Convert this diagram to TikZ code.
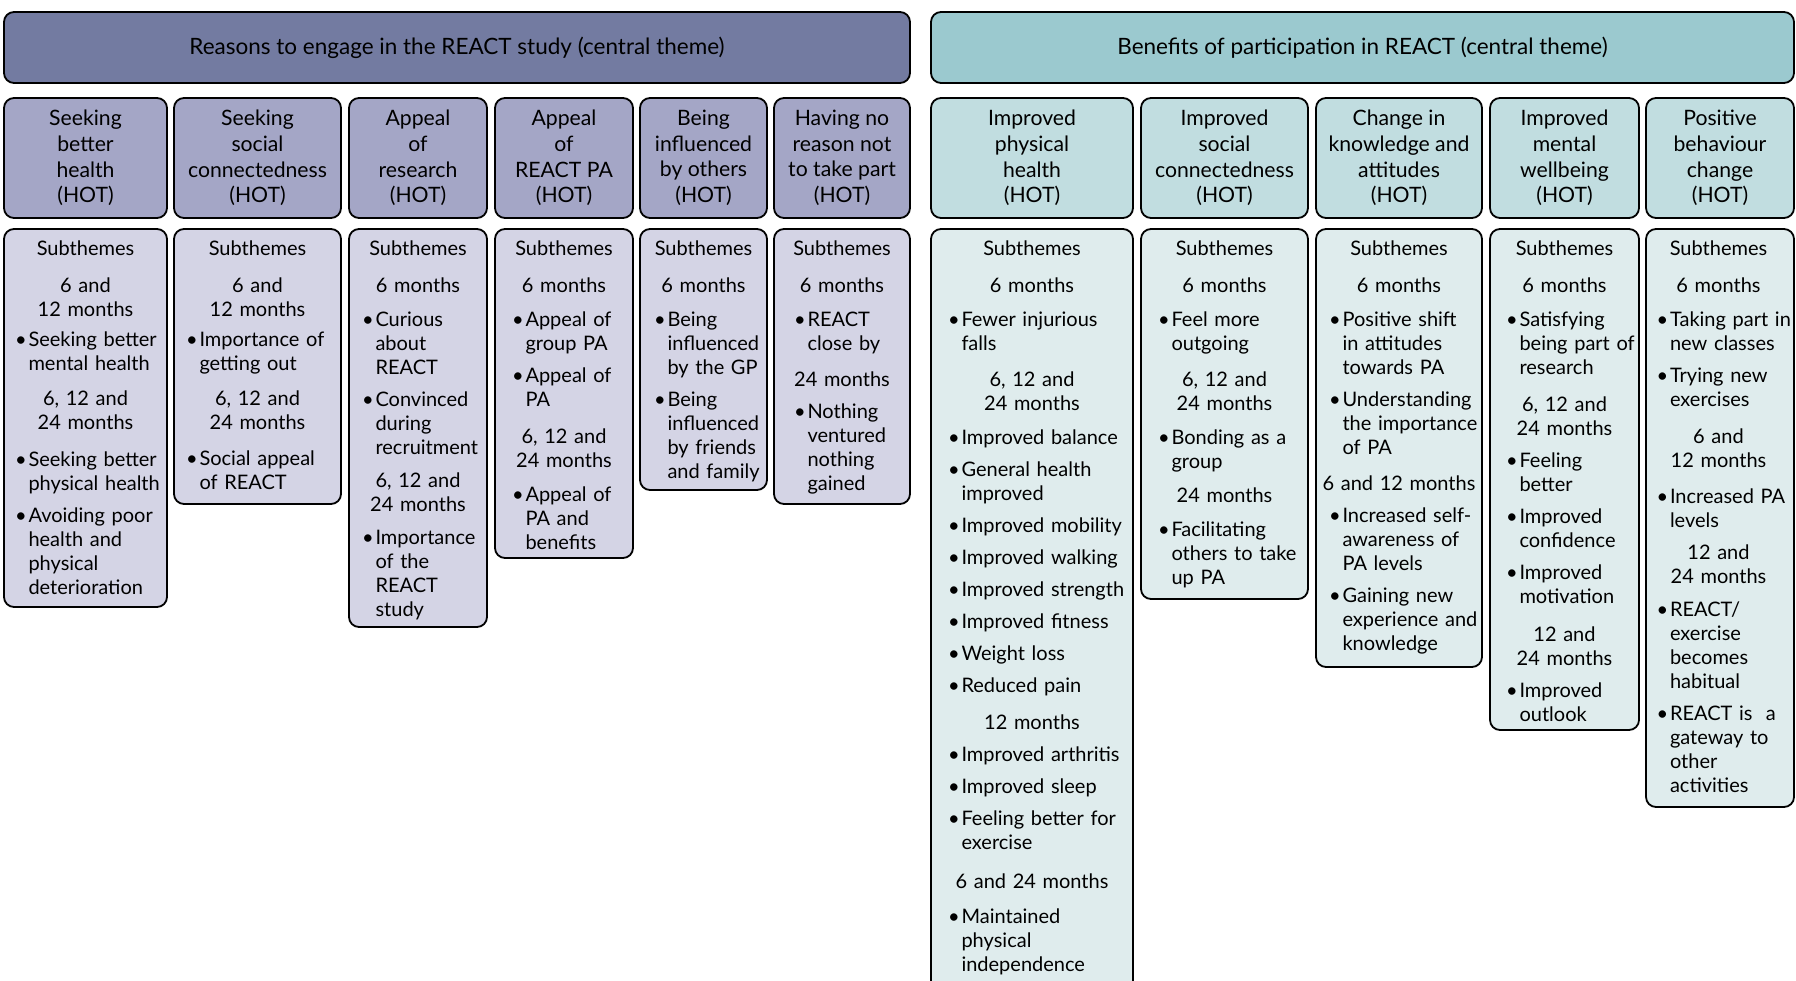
\documentclass[tikz,border=0pt]{standalone}
\usepackage{fontspec}
\setmainfont{Lato}
\definecolor{reasonHead}{HTML}{737BA1}
\definecolor{reasonHot}{HTML}{A4A6C6}
\definecolor{reasonSub}{HTML}{D4D4E5}
\definecolor{benefitHead}{HTML}{9BC9CF}
\definecolor{benefitHot}{HTML}{C1DDE0}
\definecolor{benefitSub}{HTML}{DFECED}
% centred line(s), time-point heading and bullet entry inside a subtheme box
\newcommand{\ctr}[1]{{\centering\leftskip=-30pt plus 1fil\rightskip=-30pt plus 1fil
  #1\par}}
\newcommand{\subhd}[2][13pt]{\par\vspace{#1}\ctr{#2}\vspace{2pt}}
\newcommand{\bul}[2][8pt]{\par\vspace{#1}{\let\\\newline\noindent\hangindent=14pt\hangafter=1
  \rightskip=-40pt plus 1fil\hyphenpenalty=10000
  \makebox[14pt][l]{\hspace{0.5pt}\textbullet}#2\par}}

\begin{document}
\begin{tikzpicture}[x=1pt, y=-1pt,
    theme/.style={rectangle, rounded corners=10pt, draw=black, line width=1.8pt,
                  minimum height=71pt, inner sep=0pt,
                  font=\fontsize{22.5}{26}\selectfont},
    hot/.style={rectangle, rounded corners=10pt, draw=black, line width=1.8pt,
                minimum height=120pt, inner sep=0pt, align=center,
                font=\fontsize{21.2}{25.6}\selectfont},
    subframe/.style={rounded corners=10pt, draw=black, line width=1.8pt},
    subtext/.style={anchor=north, inner sep=0pt, align=left,
                    font=\fontsize{20}{24}\selectfont},
  ]
  \useasboundingbox (0,0) rectangle (1796,980);
  \clip (0,0) rectangle (1796,980);

  % central themes
  \node[theme, fill=reasonHead, minimum width=906pt] (reasons) at (457,47.5)
    {Reasons to engage in the REACT study (central theme)};
  \node[theme, fill=benefitHead, minimum width=863pt] (benefits) at (1362.5,47.5)
    {Benefits of participation in REACT (central theme)};

  % higher-order themes: reasons
  \node[hot, fill=reasonHot, minimum width=163pt] (hotHealth) at (85.5,158)
    {Seeking\\better\\health\\(HOT)};
  \node[hot, fill=reasonHot, minimum width=167pt] (hotSocial) at (257.5,158)
    {Seeking\\social\\connectedness\\(HOT)};
  \node[hot, fill=reasonHot, minimum width=138pt] (hotResearch) at (418,158)
    {Appeal\\of\\research\\(HOT)};
  \node[hot, fill=reasonHot, minimum width=138pt] (hotPA) at (564,158)
    {Appeal\\of\\REACT PA\\(HOT)};
  \node[hot, fill=reasonHot, minimum width=127pt] (hotOthers) at (703.5,158)
    {Being\\influenced\\by others\\(HOT)};
  \node[hot, fill=reasonHot, minimum width=136pt] (hotNoReason) at (842,158)
    {Having no\\reason not\\to take part\\(HOT)};

  % higher-order themes: benefits
  \node[hot, fill=benefitHot, minimum width=202pt] (hotPhysical) at (1032,158)
    {Improved\\physical\\health\\(HOT)};
  \node[hot, fill=benefitHot, minimum width=167pt] (hotConnect) at (1224.5,158)
    {Improved\\social\\connectedness\\(HOT)};
  \node[hot, fill=benefitHot, minimum width=166pt] (hotKnow) at (1399,158)
    {Change in\\knowledge and\\attitudes\\(HOT)};
  \node[hot, fill=benefitHot, minimum width=149pt] (hotMental) at (1564.5,158)
    {Improved\\mental\\wellbeing\\(HOT)};
  \node[hot, fill=benefitHot, minimum width=148pt] (hotBehaviour) at (1720,158)
    {Positive\\behaviour\\change\\(HOT)};

  % subtheme boxes: reasons
  \draw[subframe, fill=reasonSub] (4,229) rectangle (167,607);
  \node[subtext, text width=142pt] (subHealth) at (85.5,241)
    {\ctr{Subthemes}
     \subhd{6 and\\12 months}
     \bul[3.3pt]{Seeking better\\mental health}
     \subhd[11.5pt]{6, 12 and\\24 months}
     \bul[10.6pt]{Seeking better\\physical health}
     \bul{Avoiding poor\\health and\\physical\\deterioration}};

  \draw[subframe, fill=reasonSub] (174,229) rectangle (341,504);
  \node[subtext, text width=144pt] (subSocial) at (257.5,241)
    {\ctr{Subthemes}
     \subhd{6 and\\12 months}
     \bul[3.3pt]{Importance of\\getting out}
     \subhd[11.5pt]{6, 12 and\\24 months}
     \bul[9.5pt]{Social appeal\\of REACT}};

  \draw[subframe, fill=reasonSub] (349,229) rectangle (487,627);
  \node[subtext, text width=113pt] (subResearch) at (418,241)
    {\ctr{Subthemes}
     \subhd{6 months}
     \bul{Curious\\about\\REACT}
     \bul{Convinced\\during\\recruitment}
     \subhd[9pt]{6, 12 and\\24 months}
     \bul[7pt]{Importance\\of the\\REACT\\study}};

  \draw[subframe, fill=reasonSub] (495,229) rectangle (633,558);
  \node[subtext, text width=105pt] (subPA) at (564,241)
    {\ctr{Subthemes}
     \subhd{6 months}
     \bul{Appeal of\\group PA}
     \bul{Appeal of\\PA}
     \subhd{6, 12 and\\24 months}
     \bul{Appeal of\\PA and\\benefits}};

  \draw[subframe, fill=reasonSub] (640,229) rectangle (767,490);
  \node[subtext, text width=100pt] (subOthers) at (703.5,241)
    {\ctr{Subthemes}
     \subhd{6 months}
     \bul{Being\\influenced\\by the GP}
     \bul{Being\\influenced\\by friends\\and family}};

  \draw[subframe, fill=reasonSub] (774,229) rectangle (910,504);
  \node[subtext, text width=97pt] (subNoReason) at (842,241)
    {\ctr{Subthemes}
     \subhd{6 months}
     \bul{REACT\\close by}
     \subhd[11.5pt]{24 months}
     \bul[6pt]{Nothing\\ventured\\nothing\\gained}};

  % subtheme boxes: benefits
  \draw[subframe, fill=benefitSub] (931,229) rectangle (1133,1000);
  \node[subtext, text width=169pt] (subPhysical) at (1032,241)
    {\ctr{Subthemes}
     \subhd{6 months}
     \bul{Fewer injurious\\falls}
     \subhd[11.5pt]{6, 12 and\\24 months}
     \bul{Improved balance}
     \bul{General health\\improved}
     \bul{Improved mobility}
     \bul{Improved walking}
     \bul{Improved strength}
     \bul{Improved fitness}
     \bul{Weight loss}
     \bul{Reduced pain}
     \subhd{12 months}
     \bul[6pt]{Improved arthritis}
     \bul{Improved sleep}
     \bul{Feeling better for\\exercise}
     \subhd[15pt]{6 and 24 months}
     \bul[9.5pt]{Maintained\\physical\\independence}};

  \draw[subframe, fill=benefitSub] (1141,229) rectangle (1308,599);
  \node[subtext, text width=134pt] (subConnect) at (1224.5,241)
    {\ctr{Subthemes}
     \subhd{6 months}
     \bul{Feel more\\outgoing}
     \subhd[11.5pt]{6, 12 and\\24 months}
     \bul{Bonding as a\\group}
     \subhd[10.4pt]{24 months}
     \bul[7.2pt]{Facilitating\\others to take\\up PA}};

  \draw[subframe, fill=benefitSub] (1316,229) rectangle (1482,667);
  \node[subtext, text width=141pt] (subKnow) at (1399,241)
    {\ctr{Subthemes}
     \subhd{6 months}
     \bul{Positive shift\\in attitudes\\towards PA}
     \bul{Understanding\\the importance\\of PA}
     \subhd[11.5pt]{6 and 12 months}
     \bul[6pt]{Increased self-\\awareness of\\PA levels}
     \bul{Gaining new\\experience and\\knowledge}};

  \draw[subframe, fill=benefitSub] (1490,229) rectangle (1639,730);
  \node[subtext, text width=118pt] (subMental) at (1564.5,241)
    {\ctr{Subthemes}
     \subhd{6 months}
     \bul{Satisfying\\being part of\\research}
     \subhd{6, 12 and\\24 months}
     \bul[6pt]{Feeling\\better}
     \bul{Improved\\confidence}
     \bul{Improved\\motivation}
     \subhd[13.8pt]{12 and\\24 months}
     \bul[6pt]{Improved\\outlook}};

  \draw[subframe, fill=benefitSub] (1646,229) rectangle (1794,807);
  \node[subtext, text width=125pt] (subBehaviour) at (1718.5,241)
    {\ctr{Subthemes}
     \subhd{6 months}
     \bul{Taking part in\\new classes}
     \bul{Trying new\\exercises}
     \subhd{6 and\\12 months}
     \bul[9.5pt]{Increased PA\\levels}
     \subhd[8pt]{12 and\\24 months}
     \bul[7pt]{REACT/\\exercise\\becomes\\habitual}
     \bul{REACT is~ a\\gateway to\\other\\activities}};
\end{tikzpicture}
\end{document}
